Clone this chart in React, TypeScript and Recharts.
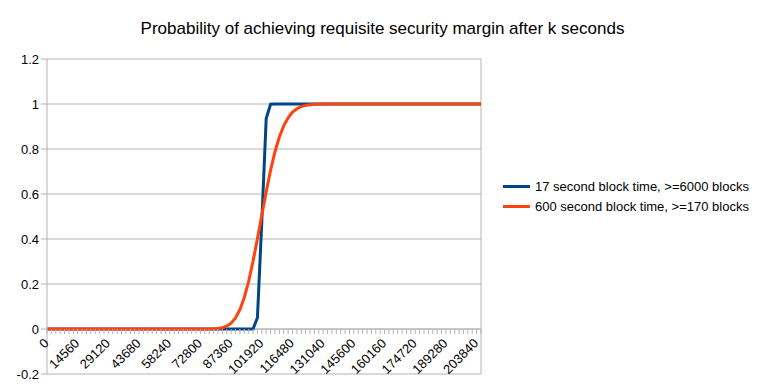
import React from "react";
import {
  LineChart,
  Line,
  XAxis,
  YAxis,
  CartesianGrid,
  ReferenceLine,
} from "recharts";

// k in seconds, one category every 2080 s, a label every 7th category
const K_VALUES = Array.from({ length: 100 }, (_, i) => i * 2080);

// 17 second block time, >=6000 blocks
const BLOCKS_17S = [
  0, 0, 0, 0, 0, 0, 0, 0, 0, 0,
  0, 0, 0, 0, 0, 0, 0, 0, 0, 0,
  0, 0, 0, 0, 0, 0, 0, 0, 0, 0,
  0, 0, 0, 0, 0, 0, 0, 0, 0, 0,
  0, 0, 0, 0, 0, 0, 0, 0, 0.05, 0.478,
  0.935, 0.999, 1, 1, 1, 1, 1, 1, 1, 1,
  1, 1, 1, 1, 1, 1, 1, 1, 1, 1,
  1, 1, 1, 1, 1, 1, 1, 1, 1, 1,
  1, 1, 1, 1, 1, 1, 1, 1, 1, 1,
  1, 1, 1, 1, 1, 1, 1, 1, 1, 1,
];

// 600 second block time, >=170 blocks
const BLOCKS_600S = [
  0, 0, 0, 0, 0, 0, 0, 0, 0, 0,
  0, 0, 0, 0, 0, 0, 0, 0, 0, 0,
  0, 0, 0, 0, 0, 0, 0, 0, 0, 0,
  0, 0, 0, 0, 0, 0, 0.0001, 0.0003, 0.0008, 0.002,
  0.0055, 0.0125, 0.026, 0.049, 0.086, 0.14, 0.212, 0.301, 0.401, 0.506,
  0.61, 0.705, 0.788, 0.853, 0.903, 0.939, 0.964, 0.979, 0.989, 0.994,
  0.997, 0.9986, 0.9994, 0.9998, 1, 1, 1, 1, 1, 1,
  1, 1, 1, 1, 1, 1, 1, 1, 1, 1,
  1, 1, 1, 1, 1, 1, 1, 1, 1, 1,
  1, 1, 1, 1, 1, 1, 1, 1, 1, 1,
];

const Y_TICKS = [-0.2, 0, 0.2, 0.4, 0.6, 0.8, 1, 1.2];
const Y_MIN = -0.2;
const Y_MAX = 1.2;

const SERIES = [
  { key: "a", name: "17 second block time, >=6000 blocks", color: "#004586" },
  { key: "b", name: "600 second block time, >=170 blocks", color: "#ff420e" },
];

const FONT = "'Liberation Sans', Arial, sans-serif";
const GRID = "#b3b3b3";

const WIDTH = 765;
const HEIGHT = 390;
const MARGIN = { top: 59, right: 284, bottom: 0, left: 0 };
const X_AXIS_H = 16;
const PLOT_H = HEIGHT - MARGIN.top - MARGIN.bottom - X_AXIS_H;
// distance from the plot bottom (y = -0.2) up to y = 0
const ZERO_SHIFT = (PLOT_H * (0 - Y_MIN)) / (Y_MAX - Y_MIN);

const data = K_VALUES.map((k, i) => ({
  k,
  a: BLOCKS_17S[i],
  b: BLOCKS_600S[i],
}));

function XTick(props: any) {
  const { x, y, payload, index } = props;
  const i = index ?? payload?.index ?? 0;
  const y0 = y - ZERO_SHIFT;
  const tx = x + 2.5;
  const ty = y0 + 15;
  return (
    <g>
      <line x1={x} x2={x} y1={y0} y2={y0 + 5} stroke={GRID} />
      {i % 7 === 0 && (
        <text
          x={tx}
          y={ty}
          textAnchor="end"
          fontSize={13}
          fontFamily={FONT}
          fill="#000"
          transform={`rotate(-45 ${tx} ${ty})`}
        >
          {payload.value}
        </text>
      )}
    </g>
  );
}

export default function App() {
  return (
    <div
      style={{
        position: "absolute",
        left: 0,
        top: 0,
        width: WIDTH,
        height: HEIGHT,
        background: "#fff",
        fontFamily: FONT,
      }}
    >
      <div
        style={{
          position: "absolute",
          top: 19,
          left: 0,
          width: WIDTH,
          textAlign: "center",
          fontSize: 17,
          color: "#000",
        }}
      >
        Probability of achieving requisite security margin after k seconds
      </div>

      <LineChart width={WIDTH} height={HEIGHT} data={data} margin={MARGIN}>
        <CartesianGrid vertical={false} stroke={GRID} />
        <XAxis
          dataKey="k"
          type="category"
          interval={0}
          height={X_AXIS_H}
          axisLine={false}
          tickLine={false}
          tickSize={0}
          tickMargin={0}
          tick={<XTick />}
        />
        <YAxis
          width={47}
          domain={[Y_MIN, Y_MAX]}
          ticks={Y_TICKS}
          interval={0}
          stroke={GRID}
          tickSize={6}
          tick={{ fontSize: 13, fill: "#000", fontFamily: FONT }}
          tickFormatter={(v) => String(Math.round(v * 10) / 10)}
        />
        <ReferenceLine y={0} stroke={GRID} />
        <ReferenceLine x={K_VALUES[K_VALUES.length - 1]} stroke={GRID} />
        {SERIES.map((s) => (
          <Line
            key={s.key}
            type="linear"
            dataKey={s.key}
            name={s.name}
            stroke={s.color}
            strokeWidth={3}
            dot={false}
            activeDot={false}
            isAnimationActive={false}
          />
        ))}
      </LineChart>

      <div style={{ position: "absolute", left: 503, top: 176 }}>
        {SERIES.map((s) => (
          <div
            key={s.key}
            style={{
              display: "flex",
              alignItems: "center",
              height: 20,
              fontSize: 13,
              color: "#000",
              whiteSpace: "nowrap",
            }}
          >
            <span
              style={{
                display: "inline-block",
                width: 27,
                height: 3,
                background: s.color,
                marginRight: 5,
              }}
            />
            {s.name}
          </div>
        ))}
      </div>
    </div>
  );
}
